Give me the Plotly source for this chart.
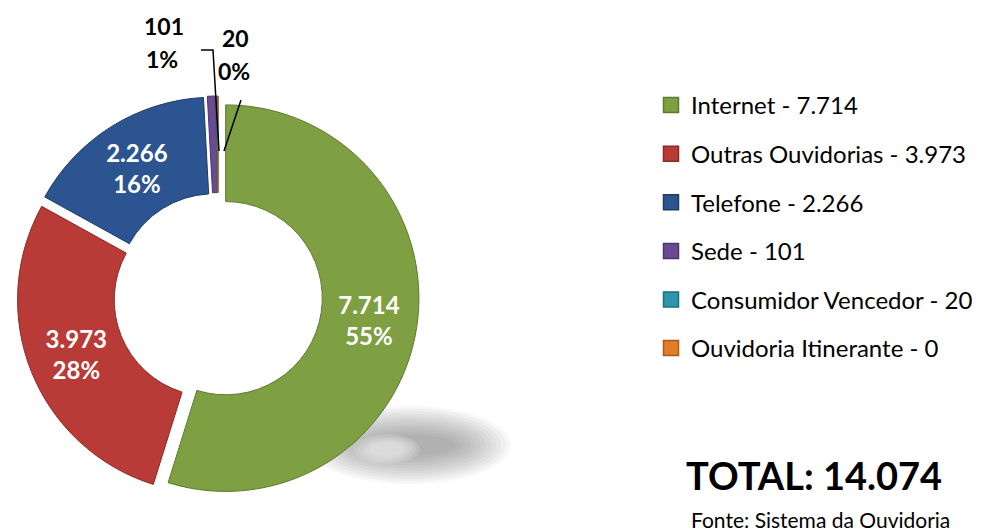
import plotly.graph_objects as go

categories = ["Internet", "Outras Ouvidorias", "Telefone", "Sede", "Consumidor Vencedor", "Ouvidoria Itinerante"]
values = [7714, 3973, 2266, 101, 20, 0]
colors = ["#7E9F42", "#B83B37", "#2C5490", "#6B4A94", "#2E95AF", "#E07E27"]
edge_colors = ["#5E7A2C", "#8A2A27", "#1E3C68", "#4C3470", "#1F6E82", "#A85A18"]
legend_labels = ["Internet - 7.714", "Outras Ouvidorias - 3.973", "Telefone - 2.266",
                 "Sede - 101", "Consumidor Vencedor - 20", "Ouvidoria Itinerante - 0"]
inside_templates = ["%{value:,}<br>%{percent:.0%}"] * 3 + [""] * 3
total_text = "TOTAL: 14.074"
source_text = "Fonte: Sistema da Ouvidoria"

W, H = 981, 531
FONT = "Lato, 'Open Sans', sans-serif"

def px(x, y):
    return x / W, 1 - y / H

fig = go.Figure()
cx, cy, side = 210, 289, 402
fig.add_trace(go.Pie(
    labels=categories, values=values, sort=False, direction="clockwise", rotation=0,
    hole=0.5, pull=[0.04] * 6,
    marker=dict(colors=colors, line=dict(color=edge_colors, width=1)),
    texttemplate=inside_templates, textposition="inside", insidetextorientation="horizontal",
    textfont=dict(family=FONT, size=24, color="white", weight="bold"),
    domain=dict(x=[(cx - side / 2) / W, (cx + side / 2) / W],
                y=[1 - (cy + side / 2) / H, 1 - (cy - side / 2) / H]),
    showlegend=False, hoverinfo="label+value+percent",
))

for i, (lab, col, ec) in enumerate(zip(legend_labels, colors, edge_colors)):
    fig.add_trace(go.Scatter(
        x=[None], y=[None], mode="markers", name=lab, legendgroup=str(i),
        marker=dict(symbol="square", size=15, color=col, line=dict(color=ec, width=1.5)),
    ))

# soft shadow beneath the ring
n = 12
for k in range(n):
    x0, y0 = px(300 + 5 * k, 398 + 2.6 * k)
    x1, y1 = px(503 - 5 * k, 476 - 2.6 * k)
    fig.add_shape(type="circle", xref="paper", yref="paper", x0=x0, y0=y0, x1=x1, y1=y1,
                  fillcolor="rgba(90,90,90,0.05)", line=dict(width=0), layer="below")
for k in range(5):
    x0, y0 = px(345 + 4 * k, 426 + 2 * k)
    x1, y1 = px(412 - 4 * k, 456 - 2 * k)
    fig.add_shape(type="circle", xref="paper", yref="paper", x0=x0, y0=y0, x1=x1, y1=y1,
                  fillcolor="rgba(255,255,255,0.15)", line=dict(width=0), layer="below")

# small-slice labels
small = [("101", 156, 18), ("1%", 154, 51), ("20", 227, 30), ("0%", 226, 63)]
for t, x, y in small:
    xx, yy = px(x, y)
    fig.add_annotation(x=xx, y=yy, xref="paper", yref="paper", text=t, showarrow=False,
                       xanchor="center", yanchor="middle",
                       font=dict(family=FONT, size=23, color="black", weight="bold"))

def path(points):
    s = ""
    for k, (x, y) in enumerate(points):
        xx, yy = px(x, y)
        s += ("M" if k == 0 else "L") + f"{xx:.5f},{yy:.5f} "
    return s

for pts in [[(193, 42), (205, 42), (211, 143)], [(233, 92), (216, 143)]]:
    fig.add_shape(type="path", path=path(pts), xref="paper", yref="paper",
                  line=dict(color="black", width=1.5))

tx, ty = px(806, 467)
fig.add_annotation(x=tx, y=ty, xref="paper", yref="paper", text=total_text, showarrow=False,
                   xanchor="center", yanchor="middle",
                   font=dict(family=FONT, size=38, color="black", weight="bold"))
sx, sy = px(812, 511)
fig.add_annotation(x=sx, y=sy, xref="paper", yref="paper", text=source_text, showarrow=False,
                   xanchor="center", yanchor="middle",
                   font=dict(family=FONT, size=21, color="black"))

fig.update_layout(
    width=W, height=H, margin=dict(l=0, r=0, t=0, b=0),
    paper_bgcolor="white", plot_bgcolor="white", separators=",.",
    xaxis=dict(visible=False), yaxis=dict(visible=False),
    legend=dict(x=643 / W, y=1 - 75 / H, xanchor="left", yanchor="top",
                font=dict(family=FONT, size=24, color="black"),
                tracegroupgap=14.4, itemwidth=30, bgcolor="rgba(0,0,0,0)"),
)
fig.write_html("out.html")
